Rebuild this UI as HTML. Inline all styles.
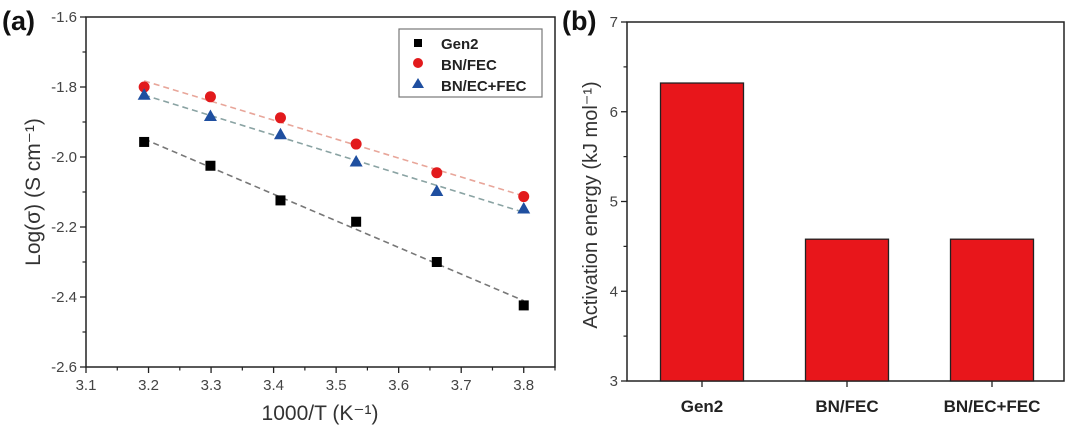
<!DOCTYPE html>
<html><head><meta charset="utf-8"><style>
body{margin:0;background:#fff;width:1080px;height:435px;overflow:hidden}
svg{display:block;font-family:"Liberation Sans",Arial,sans-serif}
</style></head><body>
<svg id="s" width="1080" height="435"></svg>
<script>
const xVals=[3.193,3.299,3.411,3.532,3.661,3.8];
const gen2=[-1.957,-2.025,-2.124,-2.185,-2.30,-2.424];
const bnfec=[-1.80,-1.828,-1.888,-1.963,-2.045,-2.113];
const bnecfec=[-1.822,-1.883,-1.935,-2.013,-2.097,-2.147];
const xTicks=[3.1,3.2,3.3,3.4,3.5,3.6,3.7,3.8];
const yTicks=[-1.6,-1.8,-2.0,-2.2,-2.4,-2.6];
const barCats=["Gen2","BN/FEC","BN/EC+FEC"];
const barVals=[6.32,4.58,4.58];
const barTicks=[3,4,5,6,7];

const S=document.getElementById('s');const NS='http://www.w3.org/2000/svg';
function el(t,a,txt,p){const e=document.createElementNS(NS,t);for(const k in a)e.setAttribute(k,a[k]);if(txt!=null)e.textContent=txt;(p||S).appendChild(e);return e;}

// Panel a
const L={x0:86,x1:555,y0:17,y1:367};
const ax=v=>L.x0+(v-3.1)/(3.85-3.1)*(L.x1-L.x0);
const ay=v=>L.y0+(-1.6-v)/1.0*(L.y1-L.y0);
let g=el('g',{});

el('rect',{x:L.x0,y:L.y0,width:L.x1-L.x0,height:L.y1-L.y0,fill:'none',stroke:'#222','stroke-width':1.5},null,g);
for(let i=0;i<xTicks.length;i++){const x=ax(xTicks[i]);el('line',{x1:x,x2:x,y1:L.y1,y2:L.y1+6,stroke:'#222','stroke-width':1.3},null,g);
 const t=el('text',{x:x,y:L.y1+23,'text-anchor':'middle','font-size':15,fill:'#444'},xTicks[i].toFixed(1),g);
 const xm=ax(xTicks[i]+0.05);el('line',{x1:xm,x2:xm,y1:L.y1,y2:L.y1+3.5,stroke:'#222','stroke-width':1.2},null,g);}
for(let i=0;i<yTicks.length;i++){const y=ay(yTicks[i]);el('line',{x1:L.x0-6,x2:L.x0,y1:y,y2:y,stroke:'#222','stroke-width':1.3},null,g);
 const t=el('text',{x:L.x0-9,y:y+5,'text-anchor':'end','font-size':15,fill:'#444'},yTicks[i].toFixed(1),g);
 if(i<yTicks.length-1){const ym=ay(yTicks[i]-0.1);el('line',{x1:L.x0-3.5,x2:L.x0,y1:ym,y2:ym,stroke:'#222','stroke-width':1.2},null,g);}}
let t=el('text',{x:320,y:420,'text-anchor':'middle','font-size':21,fill:'#333'},'1000/T (K⁻¹)');

t=el('text',{transform:'translate(40,192) rotate(-90)','text-anchor':'middle','font-size':21,fill:'#333'},'Log(σ) (S cm⁻¹)');

t=el('text',{x:2,y:30,'font-size':27,'font-weight':'bold',fill:'#111'},'(a)');


function fit(ys){const n=xVals.length;let mx=0,my=0;for(let i=0;i<n;i++){mx+=xVals[i];my+=ys[i];}mx/=n;my/=n;let a=0,b=0;for(let i=0;i<n;i++){a+=(xVals[i]-mx)*(ys[i]-my);b+=(xVals[i]-mx)**2;}const m=a/b;return x=>my+m*(x-mx);}
const series=[{n:'bnfec',d:bnfec,c:'#e21a1c',lc:'#e8a69a',shape:'circle'},{n:'bnecfec',d:bnecfec,c:'#1f4fa0',lc:'#8aa3a3',shape:'tri'},{n:'gen2',d:gen2,c:'#000',lc:'#777',shape:'sq'}];
for(const s of series){const f=fit(s.d);const x0=xVals[0],x1=xVals[xVals.length-1];
 const ln=el('line',{x1:ax(x0),y1:ay(f(x0)),x2:ax(x1),y2:ay(f(x1)),stroke:s.lc,'stroke-width':1.6,'stroke-dasharray':'6,4'});
 
 for(let i=0;i<xVals.length;i++){const x=ax(xVals[i]),y=ay(s.d[i]);let m;
  if(s.shape==='circle')m=el('circle',{cx:x,cy:y,r:5.5,fill:s.c});
  else if(s.shape==='sq')m=el('rect',{x:x-5,y:y-5,width:10,height:10,fill:s.c});
  else m=el('polygon',{points:`${x},${y-6.5} ${x-6.5},${y+5} ${x+6.5},${y+5}`,fill:s.c});
  }}
// legend
g=el('g',{});
el('rect',{x:399,y:29,width:143,height:68,fill:'#fff',stroke:'#777','stroke-width':1.2},null,g);
el('rect',{x:414,y:39,width:8,height:8,fill:'#000'},null,g);
el('circle',{cx:418,cy:63,r:5,fill:'#e21a1c'},null,g);
el('polygon',{points:'418,78 412,88 424,88',fill:'#1f4fa0'},null,g);
const lg=['Gen2','BN/FEC','BN/EC+FEC'];
for(let i=0;i<3;i++){const e=el('text',{x:441,y:49+21*i,'font-size':15,'font-weight':'bold',fill:'#222'},lg[i],g);}

// Panel b
const R={x0:627,x1:1064,y0:22,y1:381};
const by=v=>R.y1-(v-3)/4*(R.y1-R.y0);
const bx=i=>R.x0+75+145*i;
g=el('g',{});
for(let i=0;i<barCats.length;i++){const y=by(barVals[i]);
 const b=el('rect',{x:bx(i)-41.5,y:y,width:83,height:R.y1-y,fill:'#e8161b',stroke:'#222','stroke-width':1.3});
 
 el('line',{x1:bx(i),x2:bx(i),y1:R.y1,y2:R.y1+6,stroke:'#222','stroke-width':1.3},null,g);
 const e=el('text',{x:bx(i),y:R.y1+31,'text-anchor':'middle','font-size':17,'font-weight':'bold',fill:'#222'},barCats[i],g);}
el('rect',{x:R.x0,y:R.y0,width:R.x1-R.x0,height:R.y1-R.y0,fill:'none',stroke:'#222','stroke-width':1.5},null,g);
for(let i=0;i<barTicks.length;i++){const y=by(barTicks[i]);el('line',{x1:R.x0-6,x2:R.x0,y1:y,y2:y,stroke:'#222','stroke-width':1.3},null,g);
 const e=el('text',{x:R.x0-9,y:y+5,'text-anchor':'end','font-size':15,fill:'#444'},String(barTicks[i]),g);
 if(i<barTicks.length-1){const ym=by(barTicks[i]+0.5);el('line',{x1:R.x0-3.5,x2:R.x0,y1:ym,y2:ym,stroke:'#222','stroke-width':1.2},null,g);}}
t=el('text',{transform:'translate(597,205) rotate(-90)','text-anchor':'middle','font-size':20,fill:'#333'},'Activation energy (kJ mol⁻¹)');

t=el('text',{x:562,y:30,'font-size':27,'font-weight':'bold',fill:'#111'},'(b)');

</script></body></html>
